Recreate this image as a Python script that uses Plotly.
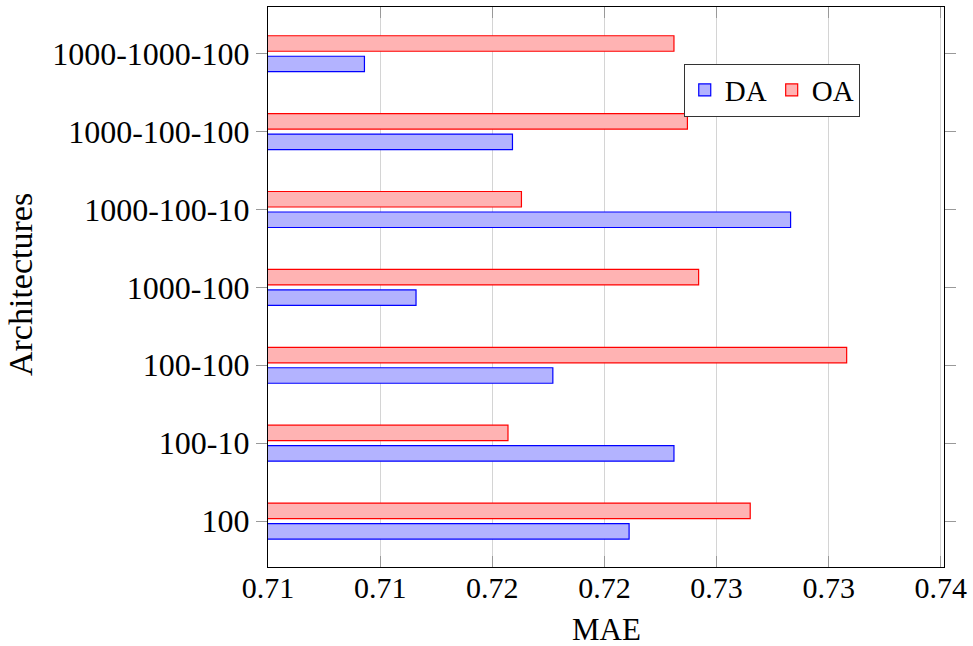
import plotly.graph_objects as go

# Network architectures (bottom to top) and their MAE per aggregation method
architectures = ["100", "100-10", "100-100", "1000-100", "1000-100-10",
                 "1000-100-100", "1000-1000-100"]
mae_da = [0.7211, 0.7231, 0.7177, 0.7116, 0.7283, 0.7159, 0.7093]
mae_oa = [0.7265, 0.7157, 0.7308, 0.7242, 0.7163, 0.7237, 0.7231]

x_tick_vals = [0.705, 0.710, 0.715, 0.720, 0.725, 0.730, 0.735]
x_tick_text = ["0.71", "0.71", "0.72", "0.72", "0.73", "0.73", "0.74"]

FONT = "Liberation Serif"

fig = go.Figure()
fig.add_trace(go.Bar(
    name="DA", y=architectures, x=mae_da, orientation="h",
    marker=dict(color="#b3b3ff", line=dict(color="#0000ff", width=1.2)),
))
fig.add_trace(go.Bar(
    name="OA", y=architectures, x=mae_oa, orientation="h",
    marker=dict(color="#ffb3b3", line=dict(color="#ff0000", width=1.2)),
))

fig.update_layout(
    width=973, height=646,
    margin=dict(l=268, r=27, t=6, b=79),
    paper_bgcolor="white", plot_bgcolor="white",
    barmode="group", bargap=0.474, bargroupgap=0.244,
    font=dict(family=FONT, size=30, color="black"),
    showlegend=True,
    legend=dict(
        orientation="h", x=0.615, y=0.899, xanchor="left", yanchor="top",
        bgcolor="white", bordercolor="#333333", borderwidth=1,
        font=dict(family=FONT, size=29), traceorder="normal",
        itemwidth=30, tracegroupgap=0,
    ),
    xaxis=dict(
        range=[0.705, 0.73514], tickvals=x_tick_vals, ticktext=x_tick_text,
        ticks="inside", ticklen=11, tickcolor="#999999", tickwidth=1,
        showgrid=True, gridcolor="#d4d4d4", gridwidth=1,
        showline=True, linecolor="black", linewidth=1.2, mirror="allticks",
        tickfont=dict(family=FONT, size=30), zeroline=False,
        ticklabelstandoff=-6,
    ),
    yaxis=dict(
        type="category", range=[-0.59, 6.6],
        ticks="outside", ticklen=11, tickcolor="#999999", tickwidth=1,
        showgrid=False,
        showline=True, linecolor="black", linewidth=1.2, mirror="allticks",
        tickfont=dict(family=FONT, size=32),
    ),
    annotations=[
        dict(text="MAE", xref="paper", yref="paper", x=0.5, y=-0.112,
             showarrow=False, xanchor="center", yanchor="middle",
             font=dict(family=FONT, size=31)),
        dict(text="Architectures", xref="paper", yref="paper", x=-0.365,
             y=0.504, showarrow=False, textangle=-90, xanchor="center",
             yanchor="middle", font=dict(family=FONT, size=34)),
    ],
)

fig.write_html("out.html")
